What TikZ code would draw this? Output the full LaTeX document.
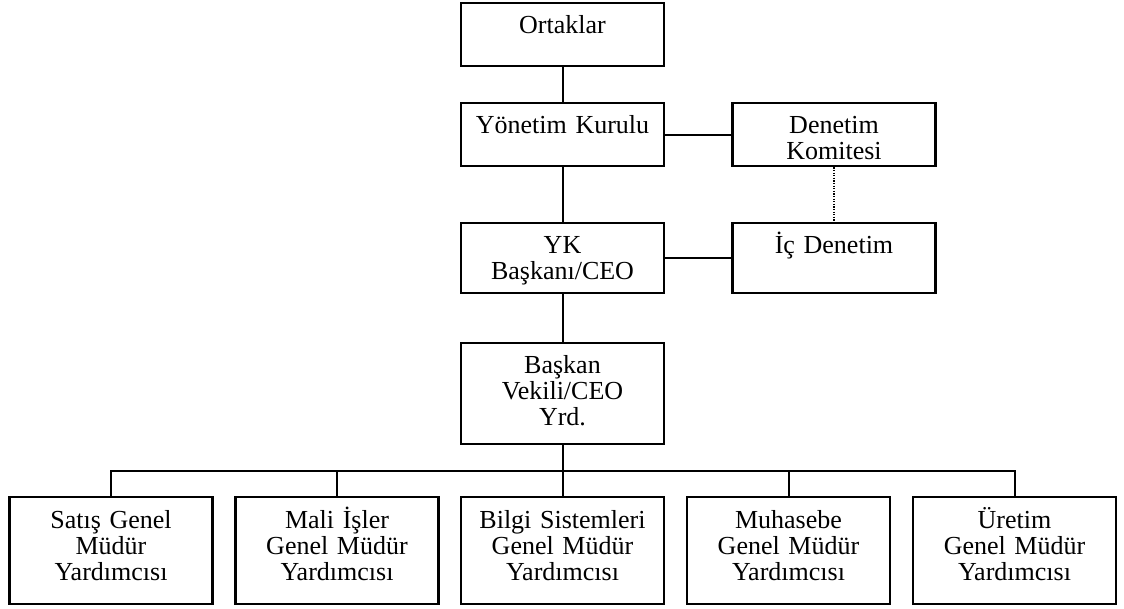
\documentclass[tikz,border=0pt]{standalone}
\usepackage{fontspec}
\setmainfont{Liberation Serif}
\begin{document}
\begin{tikzpicture}[x=1pt,y=-1pt,
  box/.style={draw=black,line width=2.6pt,rectangle,minimum width=203pt,inner sep=0pt},
  lbl/.style={anchor=base,inner sep=0pt,text width=200pt,align=center,font=\fontsize{26}{26.3}\selectfont},
  conn/.style={draw=black,line width=2pt},
  dots/.style={draw=black,line width=1.3pt,dash pattern=on 1.2pt off 1.4pt}]
\useasboundingbox (0,0) rectangle (1124,608);
% top column
\node[box,minimum height=63pt] (ort) at (562.5,34.5) {};
\node[box,minimum height=63pt] (yk) at (562.5,134.5) {};
\node[box,minimum height=63pt] (dk) at (834,134.5) {};
\node[box,minimum height=70pt] (ykb) at (562.5,258) {};
\node[box,minimum height=70pt] (ic) at (834,258) {};
\node[box,minimum height=101pt] (bv) at (562.5,393.5) {};
% bottom row
\node[box,minimum height=107pt] (b1) at (111,550.5) {};
\node[box,minimum height=107pt] (b2) at (337,550.5) {};
\node[box,minimum height=107pt] (b3) at (562.5,550.5) {};
\node[box,minimum height=107pt] (b4) at (788.5,550.5) {};
\node[box,minimum height=107pt] (b5) at (1014.5,550.5) {};
% labels
\node[lbl] (tort) at (562.5,33) {Ortaklar};
\node[lbl] (tyk) at (562.5,133) {Yönetim Kurulu};
\node[lbl] (tdk) at (834,133) {Denetim\\Komitesi};
\node[lbl] (tykb) at (562.5,253) {YK\\Başkanı/CEO};
\node[lbl] (tic) at (834,253) {İç Denetim};
\node[lbl] (tbv) at (562.5,373) {Başkan\\Vekili/CEO\\Yrd.};
\node[lbl] (tb1) at (111,528) {Satış Genel\\Müdür\\Yardımcısı};
\node[lbl] (tb2) at (337,528) {Mali İşler\\Genel Müdür\\Yardımcısı};
\node[lbl] (tb3) at (562.5,528) {Bilgi Sistemleri\\Genel Müdür\\Yardımcısı};
\node[lbl] (tb4) at (788.5,528) {Muhasebe\\Genel Müdür\\Yardımcısı};
\node[lbl] (tb5) at (1014.5,528) {Üretim\\Genel Müdür\\Yardımcısı};
% connectors
\coordinate (bus) at (562.5,471);
\draw[conn] (ort.south) -- (yk.north);
\draw[conn] (yk.south) -- (ykb.north);
\draw[conn] (yk.east) -- (dk.west);
\draw[conn] (ykb.east) -- (ic.west);
\draw[dots] (dk.south) -- (ic.north);
\draw[conn] (ykb.south) -- (bv.north);
\draw[conn] (bv.south) -- (b3.north);
\draw[conn] (b1.north) |- (bus) -| (b5.north);
\draw[conn] (b2.north) -- (b2.north |- bus);
\draw[conn] (b4.north) -- (b4.north |- bus);
\end{tikzpicture}
\end{document}
